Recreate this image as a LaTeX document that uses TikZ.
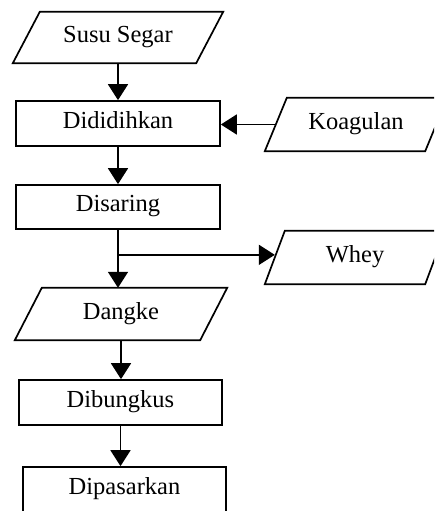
\documentclass[tikz,border=0pt]{standalone}
\usepackage{fontspec}
\setmainfont{Liberation Serif}
\usetikzlibrary{arrows.meta}

\tikzset{
  flowbox/.style={draw,line width=1.7pt,inner sep=0pt,text height=17pt,text depth=8pt},
  flowarrow/.style={line width=1.7pt,-{Triangle[length=16pt,width=20pt]}},
}
% name, x, y, width at mid height, height, slant, text
\newcommand{\datanode}[7]{%
  \node[inner sep=0pt,minimum width=#4,minimum height=#5,text height=17pt,text depth=7pt] (#1) at (#2,#3) {#7};
  \draw[line width=1.7pt,line join=miter]
    ([xshift=#6pt/2]#1.north west) -- ([xshift=#6pt/2]#1.north east)
    -- ([xshift=-#6pt/2]#1.south east) -- ([xshift=-#6pt/2]#1.south west) -- cycle;
}

\begin{document}
\begin{tikzpicture}[x=1pt,y=-1pt,font=\fontsize{24.5}{29}\selectfont]
  \useasboundingbox (0,0) rectangle (434,511);
  \clip (0,0) rectangle (434,511);

  \datanode{susu}{118}{37.5}{183}{51}{27}{Susu Segar}
  \node[flowbox,minimum width=204,minimum height=45] (didih) at (118,123.5) {Dididihkan};
  \datanode{koag}{356}{124.5}{160}{53}{22}{Koagulan}
  \node[flowbox,minimum width=204,minimum height=44] (saring) at (118,207) {Disaring};
  \datanode{whey}{355}{257.5}{160}{53}{20}{Whey}
  \datanode{dangke}{121}{314}{185}{52}{27}{Dangke}
  \node[flowbox,minimum width=203,minimum height=45] (bungkus) at (120.5,402.5) {Dibungkus};
  \node[flowbox,minimum width=203,minimum height=46] (pasar) at (124.5,490) {Dipasarkan};

  \coordinate (split) at ([yshift=-25pt]saring.south);

  \draw[flowarrow] (susu.south) -- (susu.south |- didih.north);
  \draw[flowarrow] (koag.west) -- (koag.west -| didih.east);
  \draw[flowarrow] (didih.south) -- (saring.north);
  \draw[line width=1.7pt] (saring.south) -- (split);
  \draw[flowarrow] (split) -- (split -| whey.west);
  \draw[flowarrow] (split) -- (split |- dangke.north);
  \draw[flowarrow] (dangke.south) -- (dangke.south |- bungkus.north);
  \draw[flowarrow] (bungkus.south) -- (bungkus.south |- pasar.north);
\end{tikzpicture}
\end{document}
